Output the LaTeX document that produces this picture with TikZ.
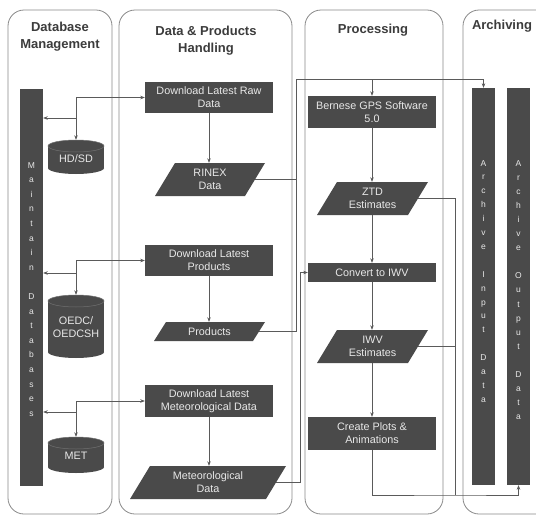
\documentclass[tikz,border=0pt]{standalone}
\usepackage{fontspec}
\setmainfont{Liberation Sans}
\usetikzlibrary{arrows.meta}
\definecolor{boxgray}{HTML}{4A4A4A}
\definecolor{linegray}{HTML}{5A5A5A}
\definecolor{lanegray}{HTML}{8A8A8A}
\definecolor{titlegray}{HTML}{3C3C3C}
\definecolor{boxtext}{HTML}{E8E8E8}
\definecolor{cyledge}{HTML}{707070}

\newcommand{\slantbox}[7]{%
  \fill[boxgray] ({#2-#4/2-#6/2},{#3+#5/2}) -- ({#2+#4/2-#6/2},{#3+#5/2}) -- ({#2+#4/2+#6/2},{#3-#5/2}) -- ({#2-#4/2+#6/2},{#3-#5/2}) -- cycle;
  \node[ptext, minimum width=#4pt, minimum height=#5pt] (#1) at (#2,#3) {#7};
}
\newcommand{\dbcyl}[4]{%
  \fill[boxgray] ({#1-28},{#2+#4}) rectangle ({#1+28},{#3-#4});
  \fill[boxgray] (#1,{#3-#4}) ellipse [x radius=28pt, y radius=#4pt];
  \filldraw[fill=boxgray, draw=cyledge, line width=0.5pt] (#1,{#2+#4}) ellipse [x radius=28pt, y radius=#4pt];
}

\begin{document}
\begin{tikzpicture}[x=1pt,y=-1pt,
  lane/.style={draw=lanegray, line width=0.8pt, rounded corners=16pt},
  ltitle/.style={font=\fontsize{13}{17}\selectfont\bfseries, text=titlegray, align=center, inner sep=0pt},
  rbox/.style={fill=boxgray, text=boxtext, font=\fontsize{10.8}{13}\selectfont, align=center, inner sep=0pt, minimum width=128pt},
  ptext/.style={text=boxtext, font=\fontsize{10.8}{13}\selectfont, align=center, inner sep=0pt},
  ctext/.style={text=boxtext, font=\fontsize{10.8}{13}\selectfont, align=center, inner sep=0pt, minimum width=56pt},
  dbbar/.style={fill=boxgray, inner sep=0pt, minimum width=23pt, minimum height=397pt},
  bartext/.style={text=boxtext, font=\fontsize{8.5}{14}\selectfont, align=center, inner sep=0pt, anchor=north},
  conn/.style={draw=linegray, line width=0.6pt},
  arr/.style={conn, -{Stealth[length=4.5pt,width=3.5pt]}},
]
\useasboundingbox (0,0) rectangle (536,517);
\clip (0,0) rectangle (536,517);
\fill[white] (0,0) rectangle (536,517);

% lanes
\draw[lane] (8,10) rectangle (112,514);
\draw[lane] (119,10) rectangle (292,514);
\draw[lane] (305,10) rectangle (443,514);
\draw[lane] (463,10) rectangle (580,514);

\node[ltitle] (t1) at (60,36.5) {Database\\Management};
\node[ltitle] (t2) at (206,41) {Data \& Products\\Handling};
\node[ltitle] (t3) at (373,30) {Processing};
\node[ltitle] (t4) at (502,26) {Archiving};

% bars
\node[dbbar] (maindb) at (31.5,287) {};
\node[bartext, font=\fontsize{8.5}{14.6}\selectfont] (maindbt) at (31.5,162) {M\\a\\i\\n\\t\\a\\i\\n\\[14.6pt]D\\a\\t\\a\\b\\a\\s\\e\\s};
\node[dbbar] (archin) at (483.5,286.5) {};
\node[bartext, font=\fontsize{8.5}{13.9}\selectfont] (archint) at (483.5,160) {A\\r\\c\\h\\i\\v\\e\\[13.9pt]I\\n\\p\\u\\t\\[13.9pt]D\\a\\t\\a};
\node[dbbar] (archout) at (518.5,286.5) {};
\node[bartext, font=\fontsize{8.5}{14.1}\selectfont] (archoutt) at (518.5,160) {A\\r\\c\\h\\i\\v\\e\\[14.1pt]O\\u\\t\\p\\u\\t\\[14.1pt]D\\a\\t\\a};

% cylinders
\dbcyl{76}{140}{174}{6}
\node[ctext, minimum height=38pt] (hdsd) at (76,159) {HD/SD};
\dbcyl{76}{295}{358}{6}
\node[ctext, minimum height=64pt] (oedc) at (76,327) {OEDC/\\OEDCSH};
\dbcyl{76}{437}{473}{6}
\node[ctext, minimum height=38pt] (met) at (76,456) {MET};

% lane 2 boxes
\node[rbox, minimum height=31pt] (dlraw) at (209,97.5) {Download Latest Raw\\Data};
\slantbox{rinex}{210}{179.5}{90}{33}{20}{RINEX\\Data}
\node[rbox, minimum height=31pt] (dlprod) at (209,260.5) {Download Latest\\Products};
\slantbox{prod}{209.5}{331.5}{99}{19}{12}{Products}
\node[rbox, minimum height=32pt] (dlmet) at (209,401) {Download Latest\\Meteorological Data};
\slantbox{metd}{208}{482.5}{136}{33}{20}{Meteorological\\Data}

% lane 3 boxes
\node[rbox, minimum height=32pt] (bernese) at (372,112) {Bernese GPS Software\\5.0};
\slantbox{ztd}{372.5}{198.5}{91}{33}{20}{ZTD\\Estimates}
\node[rbox, minimum height=19pt] (convert) at (372,272.5) {Convert to IWV};
\slantbox{iwv}{372.5}{346.5}{91}{33}{20}{IWV\\Estimates}
\node[rbox, minimum height=33pt] (plots) at (372,433.5) {Create Plots \&\\Animations};

% lane 1 connectors
\coordinate (j1) at (hdsd.north |- dlraw.west);
\coordinate (j1b) at (76,118);
\draw[arr] (j1) -- (dlraw.west);
\draw[arr] (j1) -- (hdsd.north);
\draw[arr] (j1b) -- (maindb.east |- j1b);
\coordinate (j2) at (oedc.north |- dlprod.west);
\coordinate (j2b) at (76,273);
\draw[arr] (j2) -- (dlprod.west);
\draw[arr] (j2) -- (oedc.north);
\draw[arr] (j2b) -- (maindb.east |- j2b);
\coordinate (j3) at (met.north |- dlmet.west);
\coordinate (j3b) at (76,412);
\draw[arr] (j3) -- (dlmet.west);
\draw[arr] (j3) -- (met.north);
\draw[arr] (j3b) -- (maindb.east |- j3b);

% lane 2 flow
\draw[arr] (dlraw.south) -- (dlraw.south |- rinex.north);
\draw[arr] (dlprod.south) -- (dlprod.south |- prod.north);
\draw[arr] (dlmet.south) -- (dlmet.south |- metd.north);

% input bus
\coordinate (topc) at (296,79);
\coordinate (mbus) at (300,272.5);
\draw[conn] (rinex.east) -- (rinex.east -| topc);
\draw[arr] (prod.east) -| (topc) -| (archin.north);
\draw[arr] (topc -| bernese.north) -- (bernese.north);
\draw[arr] (metd.east) -| (mbus) -- (convert.west);

% processing flow
\draw[arr] (bernese.south) -- (bernese.south |- ztd.north);
\draw[arr] (bernese.south |- ztd.south) -- (convert.north);
\draw[arr] (convert.south) -- (convert.south |- iwv.north);
\draw[arr] (convert.south |- iwv.south) -- (plots.north);

% output bus
\coordinate (obus) at (455,495);
\draw[conn] (ztd.east) -| (obus);
\draw[conn] (iwv.east) -- (iwv.east -| obus);
\draw[arr] (plots.south) |- (obus) -| (archout.south);
\end{tikzpicture}
\end{document}
